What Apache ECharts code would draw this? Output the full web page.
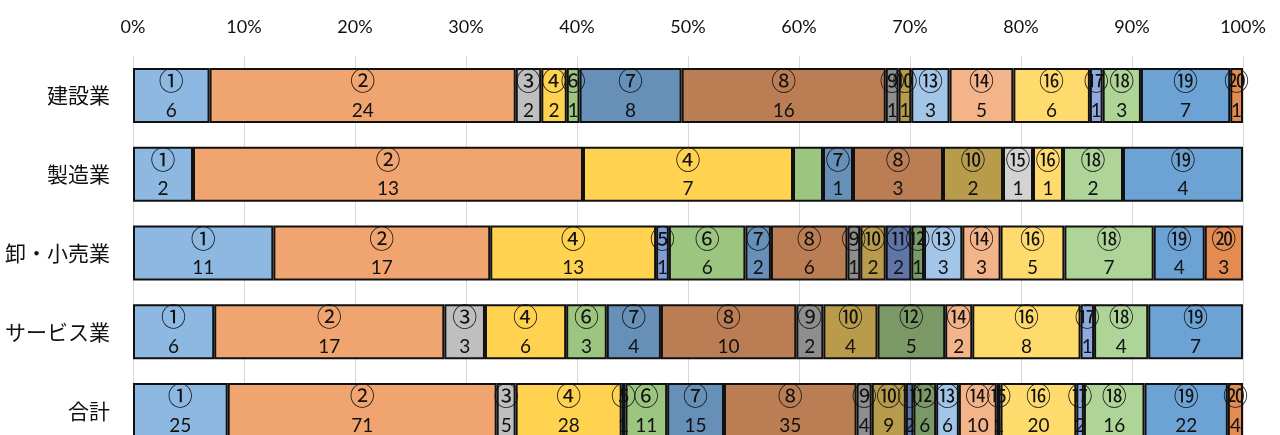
<!DOCTYPE html>
<html>
<head>
<meta charset="utf-8">
<script src="https://cdn.jsdelivr.net/npm/echarts@6/dist/echarts.min.js"></script>
<style>
  html, body { margin: 0; padding: 0; background: #fff; }
  #chart { width: 1280px; height: 435px; }
</style>
</head>
<body>
<div id="chart"></div>
<script>
// Industries (rows, top to bottom)
const categories = ['建設業', '製造業', '卸・小売業', 'サービス業', '合計'];

// Item markers ①..⑳ (one stacked series each)
const itemNames = ['①','②','③','④','⑤','⑥','⑦','⑧','⑨','⑩','⑪','⑫','⑬','⑭','⑮','⑯','⑰','⑱','⑲','⑳'];

// Response counts per item, for each industry (0 = no responses)
const kensetsu  = [6, 24, 2, 2, 0, 1, 8, 16, 1, 1, 0, 0, 3, 5, 0, 6, 1, 3, 7, 1];
const seizou    = [2, 13, 0, 7, 0, 1, 1, 3, 0, 2, 0, 0, 0, 0, 1, 1, 0, 2, 4, 0];
const oroshi    = [11, 17, 0, 13, 1, 6, 2, 6, 1, 2, 2, 1, 3, 3, 0, 5, 0, 7, 4, 3];
const service   = [6, 17, 3, 6, 0, 3, 4, 10, 2, 4, 0, 5, 0, 2, 0, 8, 1, 4, 7, 0];
const goukei    = [25, 71, 5, 28, 1, 11, 15, 35, 4, 9, 2, 6, 6, 10, 1, 20, 2, 16, 22, 4];

// Cells whose value label is left off: [row, item]
const hiddenLabels = [[1, 5]];

const rows = [kensetsu, seizou, oroshi, service, goukei];

const colors = [
  '#8DB8E2', '#F0A46F', '#BFBFBF', '#FFD24F', '#7F9ED8',
  '#9CC680', '#6690B8', '#BB7E54', '#8E8E8E', '#B89C4C',
  '#5F75A8', '#7A9966', '#A3C6E8', '#F4B48A', '#D3D3D3',
  '#FFDB6E', '#8FAADE', '#AFD497', '#6DA2D4', '#E38B50'
];

const FONT = "Lato, 'Noto Sans CJK JP', sans-serif";
const CJK = "'Noto Sans CJK JP', sans-serif";

const totals = rows.map(r => r.reduce((a, b) => a + b, 0));

const series = itemNames.map((name, j) => ({
  name: name,
  type: 'bar',
  stack: 'share',
  barWidth: 55,
  itemStyle: { color: colors[j], borderColor: '#111', borderWidth: 2 },
  label: {
    show: true,
    position: 'inside',
    color: '#111',
    fontFamily: FONT,
    fontSize: 19,
    formatter: p => '{c|' + name + '}\n{n|' + p.data.count + '}',
    rich: {
      c: { fontFamily: CJK, fontSize: 25, lineHeight: 30, color: '#111' },
      n: { fontFamily: FONT, fontSize: 19, lineHeight: 30, color: '#111' }
    }
  },
  data: rows.map((r, i) => {
    const n = r[j];
    if (!n) return null;
    const item = { value: n / totals[i] * 100, count: n };
    if (hiddenLabels.some(h => h[0] === i && h[1] === j)) item.label = { show: false };
    return item;
  })
}));

const chart = echarts.init(document.getElementById('chart'), null, { renderer: 'canvas' });
chart.setOption({
  animation: false,
  backgroundColor: '#fff',
  grid: { left: 133, right: 37, top: 56, height: 394, containLabel: false, outerBoundsMode: 'none' },
  xAxis: {
    type: 'value',
    position: 'top',
    min: 0,
    max: 100,
    interval: 10,
    axisLine: { show: false },
    axisTick: { show: false },
    axisLabel: { formatter: '{value}%', fontFamily: FONT, fontSize: 18, color: '#111', margin: 20 },
    splitLine: { show: true, lineStyle: { color: '#D9D9D9', width: 1 } }
  },
  yAxis: {
    type: 'category',
    inverse: true,
    data: categories,
    axisLine: { show: false },
    axisTick: { show: false },
    axisLabel: { fontFamily: CJK, fontSize: 21, color: '#111', margin: 23 }
  },
  series: series
});
</script>
</body>
</html>
